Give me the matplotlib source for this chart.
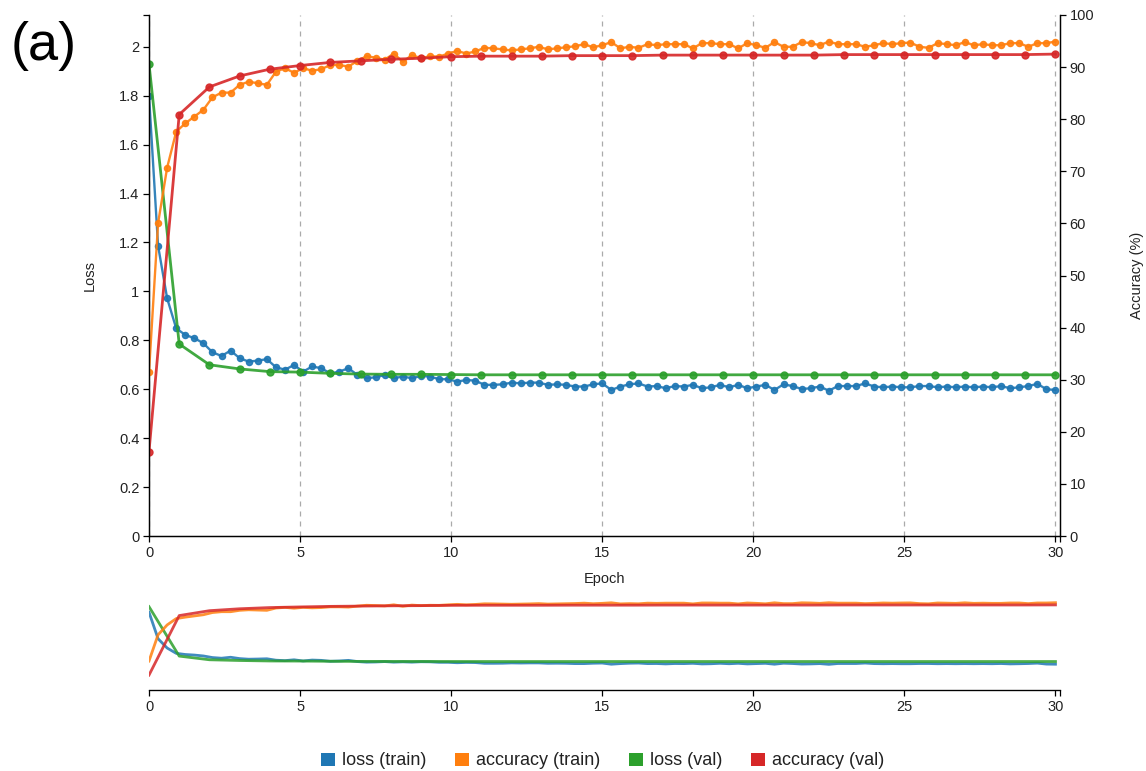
import matplotlib
matplotlib.use('Agg')
import matplotlib.pyplot as plt
from matplotlib.patches import Patch
import numpy as np

plt.rcParams['font.family'] = ['Liberation Sans', 'DejaVu Sans']

# training curves are logged every 0.3 epoch, validation once per epoch
train_epochs = np.linspace(0, 30, 101)
val_epochs = np.arange(0, 31)

train_loss = [
    1.80, 1.187, 0.972, 0.849, 0.822, 0.809, 0.788, 0.751, 0.736, 0.758,
    0.727, 0.713, 0.717, 0.723, 0.690, 0.680, 0.699, 0.672, 0.693, 0.686,
    0.665, 0.672, 0.686, 0.658, 0.645, 0.649, 0.658, 0.645, 0.652, 0.645,
    0.654, 0.652, 0.641, 0.641, 0.631, 0.638, 0.635, 0.618, 0.618, 0.620,
    0.627, 0.624, 0.627, 0.627, 0.618, 0.620, 0.618, 0.611, 0.611, 0.620,
    0.624, 0.597, 0.611, 0.620, 0.624, 0.611, 0.613, 0.604, 0.613, 0.611,
    0.618, 0.604, 0.608, 0.618, 0.608, 0.618, 0.604, 0.611, 0.618, 0.597,
    0.620, 0.613, 0.601, 0.604, 0.611, 0.594, 0.613, 0.613, 0.613, 0.624,
    0.611, 0.608, 0.611, 0.608, 0.608, 0.613, 0.613, 0.608, 0.611, 0.608,
    0.611, 0.608, 0.611, 0.608, 0.613, 0.604, 0.608, 0.613, 0.622, 0.600,
    0.597,
]

train_acc = [
    31.5, 60.0, 70.7, 77.6, 79.2, 80.5, 81.8, 84.2, 85.1, 85.1,
    86.6, 87.2, 86.9, 86.6, 89.1, 89.8, 88.9, 89.8, 89.3, 89.6,
    90.4, 90.4, 90.1, 91.2, 92.1, 91.8, 91.4, 92.6, 91.0, 92.3,
    91.7, 92.1, 92.0, 92.6, 93.1, 92.6, 93.0, 93.7, 93.6, 93.4,
    93.2, 93.4, 93.6, 93.9, 93.4, 93.6, 93.8, 94.0, 94.4, 93.8,
    94.2, 94.8, 93.6, 93.9, 93.7, 94.4, 94.2, 94.4, 94.4, 94.4,
    93.6, 94.6, 94.6, 94.4, 94.4, 93.6, 94.6, 94.2, 93.7, 94.8,
    93.9, 93.9, 94.8, 94.6, 94.2, 94.9, 94.4, 94.4, 94.4, 93.9,
    94.2, 94.6, 94.4, 94.6, 94.7, 93.9, 93.7, 94.6, 94.4, 94.2,
    94.8, 94.2, 94.4, 94.2, 94.2, 94.6, 94.6, 93.9, 94.6, 94.6,
    94.9,
]

val_loss = [
    1.93, 0.785, 0.700, 0.683, 0.672, 0.670, 0.665, 0.662, 0.661, 0.661,
    0.660, 0.659, 0.659, 0.659, 0.659, 0.659, 0.659, 0.659, 0.659, 0.659,
    0.659, 0.659, 0.659, 0.659, 0.659, 0.659, 0.659, 0.659, 0.659, 0.659,
    0.659,
]

val_acc = [
    16.2, 80.9, 86.2, 88.3, 89.6, 90.3, 90.9, 91.2, 91.5, 91.7,
    92.0, 92.1, 92.1, 92.1, 92.2, 92.2, 92.2, 92.3, 92.3, 92.3,
    92.3, 92.3, 92.3, 92.4, 92.4, 92.4, 92.4, 92.4, 92.4, 92.4,
    92.5,
]

series_names = ['loss (train)', 'accuracy (train)', 'loss (val)', 'accuracy (val)']
colors = ['#1f77b4', '#ff7f0e', '#2ca02c', '#d62728']

X_MAX = 30.15
LOSS_MAX = 2.13
TEXT = '#222222'
W, H = 1146, 771
FS = 10.5


def fig_box(x0, y0, x1, y1):
    # pixel box (top-left origin) -> figure fraction rect
    return [x0 / W, 1 - y1 / H, (x1 - x0) / W, (y1 - y0) / H]


def style_axis(ax):
    ax.tick_params(axis='both', direction='out', length=4.5, width=0.9,
                   colors='black', labelcolor=TEXT, labelsize=FS, pad=2.5)
    ax.tick_params(which='minor', length=4.5, width=0.9)
    for s in ax.spines.values():
        s.set_linewidth(0.9)


fig = plt.figure(figsize=(W / 100, H / 100), dpi=100)

# main chart
ax = fig.add_axes(fig_box(149, 15, 1060, 536))
ax2 = ax.twinx()

ax.plot(train_epochs, train_loss, color=colors[0], lw=1.7, marker='o', ms=4.4, alpha=0.9)
ax2.plot(train_epochs, train_acc, color=colors[1], lw=1.7, marker='o', ms=4.4, alpha=0.9)
ax.plot(val_epochs, val_loss, color=colors[2], lw=2.0, marker='o', ms=5.0, alpha=0.9)
ax2.plot(val_epochs, val_acc, color=colors[3], lw=2.0, marker='o', ms=5.0, alpha=0.9)

ax.set_xlim(0, X_MAX)
ax.set_ylim(0, LOSS_MAX)
ax2.set_ylim(0, 100)
ax.set_xticks(np.arange(0, 31, 5))
ax.set_xticks([X_MAX], minor=True)
ax.set_yticks(np.arange(0, 2.01, 0.2))
ax.set_yticklabels(['0', '0.2', '0.4', '0.6', '0.8', '1', '1.2', '1.4', '1.6', '1.8', '2'])
ax.set_yticks([LOSS_MAX], minor=True)
ax2.set_yticks(np.arange(0, 101, 10))
ax.grid(axis='x', linestyle=(0, (4, 4)), color='#aaaaaa', lw=0.9)
ax.spines['top'].set_visible(False)
ax2.spines['top'].set_visible(False)
style_axis(ax)
style_axis(ax2)
ax.set_xlabel('Epoch', fontsize=FS, color=TEXT, labelpad=9)
ax.set_ylabel('Loss', fontsize=FS, color=TEXT, labelpad=16)
ax2.set_ylabel('Accuracy (%)', fontsize=FS, color=TEXT, labelpad=26)

# overview strip
ax3 = fig.add_axes(fig_box(149, 598, 1060, 690))
ax4 = ax3.twinx()
ax3.plot(train_epochs, train_loss, color=colors[0], lw=2.0, alpha=0.85)
ax4.plot(train_epochs, train_acc, color=colors[1], lw=2.0, alpha=0.85)
ax3.plot(val_epochs, val_loss, color=colors[2], lw=2.0, alpha=0.85)
ax4.plot(val_epochs, val_acc, color=colors[3], lw=2.0, alpha=0.85)
ax3.set_xlim(0, X_MAX)
ax3.set_ylim(0, LOSS_MAX)
ax4.set_ylim(0, 100)
ax3.set_xticks(np.arange(0, 31, 5))
ax3.set_xticks([X_MAX], minor=True)
for a in (ax3, ax4):
    for side in ('top', 'left', 'right'):
        a.spines[side].set_visible(False)
    a.set_yticks([])
style_axis(ax3)

fig.text(0.009, 0.94, '(a)', fontsize=39, color='black', va='center', ha='left')

handles = [Patch(facecolor=c, edgecolor='none') for c in colors]
fig.legend(handles, series_names, loc='center', bbox_to_anchor=(0.526, 0.013),
           ncol=4, frameon=False, fontsize=13, handlelength=0.75, handleheight=0.75,
           handletextpad=0.4, columnspacing=1.6, labelcolor=TEXT)

fig.savefig('out.png', dpi=100)
